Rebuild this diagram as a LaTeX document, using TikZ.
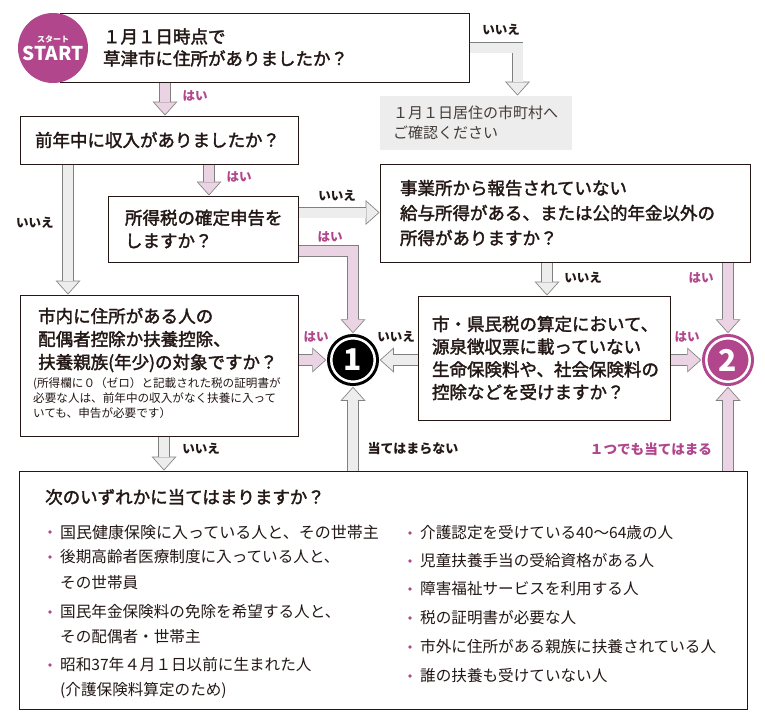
\documentclass[tikz,border=0pt]{standalone}
\usepackage{fontspec}
\setmainfont{Noto Sans CJK JP}
\newfontfamily\qfont{Noto Sans CJK JP}[FakeBold=2]
\usetikzlibrary{arrows.meta}

\definecolor{kpurple}{RGB}{178,70,140}
\definecolor{yesfill}{RGB}{234,211,227}
\definecolor{nofill}{RGB}{237,237,237}
\definecolor{arrline}{RGB}{128,128,128}
\definecolor{otherfill}{RGB}{236,237,236}
\definecolor{ink}{RGB}{35,24,21}

\begin{document}
\begin{tikzpicture}[x=1pt,y=-1pt,
    qbox/.style={draw=ink,line width=1pt,align=left,inner ysep=2pt,text=ink,
      font=\qfont\fontsize{17.5}{23}\selectfont},
    block/.style={line width=11.6pt,
      -{Triangle[length=14pt,width=25pt,line width=0pt]},
      postaction={draw=#1,line width=10pt,shorten >=1.2pt,
        -{Triangle[length=12pt,width=21.4pt,line width=0pt]}}},
    yesarrow/.style={draw=arrline,block=yesfill},
    noarrow/.style={draw=arrline,block=nofill},
    numcirc/.style={circle,minimum size=43.5pt,inner sep=0pt,outer sep=5pt,
      line width=3pt,double=white,double distance=2.5pt,text=white,
      font=\fontsize{30}{30}\selectfont\bfseries}]

  \path[use as bounding box,fill=white] (0,0) rectangle (765,718);

  \begin{scope}[every node/.style={qbox}]
    \node (b1) [inner xsep=43pt,text width=323pt,minimum height=69pt,
      font=\qfont\fontsize{17.5}{22}\selectfont] at (264.5,47.5)
      {１月１日時点で\\草津市に住所がありましたか？};
    \node (b2) [inner xsep=15pt,text width=248pt,minimum height=48pt] at (159,140)
      {前年中に収入がありましたか？};
    \node (b3) [inner xsep=17pt,text width=156pt,minimum height=66pt] at (203,229)
      {所得税の確定申告を\\しますか？};
    \node (b4) [minimum width=278pt,minimum height=141pt] at (159,365.5) {};
    \node (b5) [inner xsep=20pt,text width=330pt,minimum height=98pt,
      font=\qfont\fontsize{17.5}{25}\selectfont] at (565,213)
      {事業所から報告されていない\\給与所得がある、または公的年金以外の\\所得がありますか？};
    \node (b7) [inner xsep=14pt,text width=224pt,minimum height=124pt,
      font=\qfont\fontsize{17.5}{22.7}\selectfont] at (544,358)
      {市・県民税の算定において、\\源泉徴収票に載っていない\\生命保険料や、社会保険料の\\控除などを受けますか？};
    \node (b6) [minimum width=728pt,minimum height=238pt] at (383,590) {};
    \node (other) [draw=none,fill=otherfill,inner xsep=13pt,text width=166pt,
      minimum height=54pt,text=ink!85,font=\fontsize{15}{19.5}\selectfont] at (476,123)
      {１月１日居住の市町村へ\\ご確認ください};
  \end{scope}

  \begin{scope}[every node/.style={anchor=west,inner sep=0pt,align=left,text=ink}]
    \node (b4text) [font=\qfont\fontsize{17.5}{23}\selectfont] at (38,340)
      {市内に住所がある人の\\配偶者控除か扶養控除、\\扶養親族(年少)の対象ですか？};
    \node (b4note) [font=\fontsize{11.6}{15}\selectfont] at (33,398)
      {(所得欄に０（ゼロ）と記載された税の証明書が\\必要な人は、前年中の収入がなく扶養に入って\\いても、申告が必要です）};
  \end{scope}

  \node (start) [circle,fill=kpurple,minimum size=70pt,inner sep=0pt,text=white,
    align=center,font=\fontsize{19}{18}\selectfont\bfseries] at (53,48)
    {{\fontsize{8}{8}\selectfont スタート}\\START};

  \node (c1) [numcirc,draw=black,fill=black] at (353,360) {1};
  \node (c2) [numcirc,draw=kpurple,fill=kpurple] at (728,360) {2};

  % yes / no block arrows
  \draw[yesarrow] ([xshift=-99.5pt]b1.south) -- ([xshift=-99.5pt]b1.south |- b2.north);
  \draw[noarrow] (b1.east) -| ([xshift=41.5pt]other.north);
  \draw[yesarrow] ([xshift=50pt]b2.south) -- ([xshift=50pt]b2.south |- b3.north);
  \draw[noarrow] ([xshift=-91pt]b2.south) -- ([xshift=-91pt]b2.south |- b4.north);
  \draw[noarrow] ([yshift=16.5pt]b3.east) -- ([yshift=16.5pt]b3.east -| b5.west);
  \draw[yesarrow] ([yshift=-22pt]b3.east) -| (c1.north);
  \draw[yesarrow] (b4.east |- c1) -- (c1.west);
  \draw[noarrow] ([xshift=5pt]b4.south) -- ([xshift=5pt]b4.south |- b6.north);
  \draw[noarrow] ([xshift=-18pt]b5.south) -- ([xshift=-18pt]b5.south |- b7.north);
  \draw[yesarrow] (b5.south -| c2) -- (c2.north);
  \draw[noarrow] (b7.west |- c1) -- (c1.east);
  \draw[yesarrow] (b7.east |- c2) -- (c2.west);
  \draw[noarrow] (b6.north -| c1) -- (c1.south);
  \draw[yesarrow] (b6.north -| c2) -- (c2.south);

  \begin{scope}[every node/.style={inner sep=0pt,font=\fontsize{12.5}{14}\selectfont\bfseries}]
    \node (l1no)  [text=ink]     at (501,30)  {いいえ};
    \node (l1yes) [text=kpurple] at (195,96)  {はい};
    \node (l2yes) [text=kpurple] at (239,177) {はい};
    \node (l2no)  [text=ink]     at (35,223)  {いいえ};
    \node (l3no)  [text=ink]     at (337,196) {いいえ};
    \node (l3yes) [text=kpurple] at (330,237) {はい};
    \node (l4yes) [text=kpurple] at (316,337) {はい};
    \node (l4no)  [text=ink]     at (201,449) {いいえ};
    \node (l5no)  [text=ink]     at (583,278) {いいえ};
    \node (l5yes) [text=kpurple] at (701,278) {はい};
    \node (l7no)  [text=ink]     at (396,337) {いいえ};
    \node (l7yes) [text=kpurple] at (687,337) {はい};
    \node (l6no)  [text=ink,font=\fontsize{13}{14}\selectfont\bfseries] at (413,449) {当てはまらない};
    \node (l6yes) [text=kpurple,font=\fontsize{13.6}{14}\selectfont\bfseries] at (651,449) {１つでも当てはまる};
  \end{scope}

  \begin{scope}[every node/.style={anchor=west,inner sep=0pt,align=left,text=ink,
      font=\fontsize{15.6}{25}\selectfont}]
    \node (t6) [font=\qfont\fontsize{17.5}{22}\selectfont] at (45,497) {次のいずれかに当てはまりますか？};
    \node (i1) [font=\fontsize{16}{25}\selectfont] at (60,532) {国民健康保険に入っている人と、その世帯主};
    \node (i2) [font=\fontsize{15.6}{26}\selectfont] at (60,570)
      {後期高齢者医療制度に入っている人と、\\その世帯員};
    \node (i3) at (60,624.5) {国民年金保険料の免除を希望する人と、\\その配偶者・世帯主};
    \node (i4) at (60,677.5) {昭和37年４月１日以前に生まれた人\\(介護保険料算定のため)};
    \node (j1) at (420,533) {介護認定を受けている40〜64歳の人};
    \node (j2) at (420,561) {児童扶養手当の受給資格がある人};
    \node (j3) at (420,589) {障害福祉サービスを利用する人};
    \node (j4) at (420,618) {税の証明書が必要な人};
    \node (j5) at (420,647) {市外に住所がある親族に扶養されている人};
    \node (j6) at (420,676) {誰の扶養も受けていない人};
  \end{scope}

  \foreach \p in {(50,532),(50,557),(50,612),(50,665),
                  (410,533),(410,561),(410,589),(410,618),(410,647),(410,676)}
    \fill[kpurple] \p circle (1.8pt);

\end{tikzpicture}
\end{document}
